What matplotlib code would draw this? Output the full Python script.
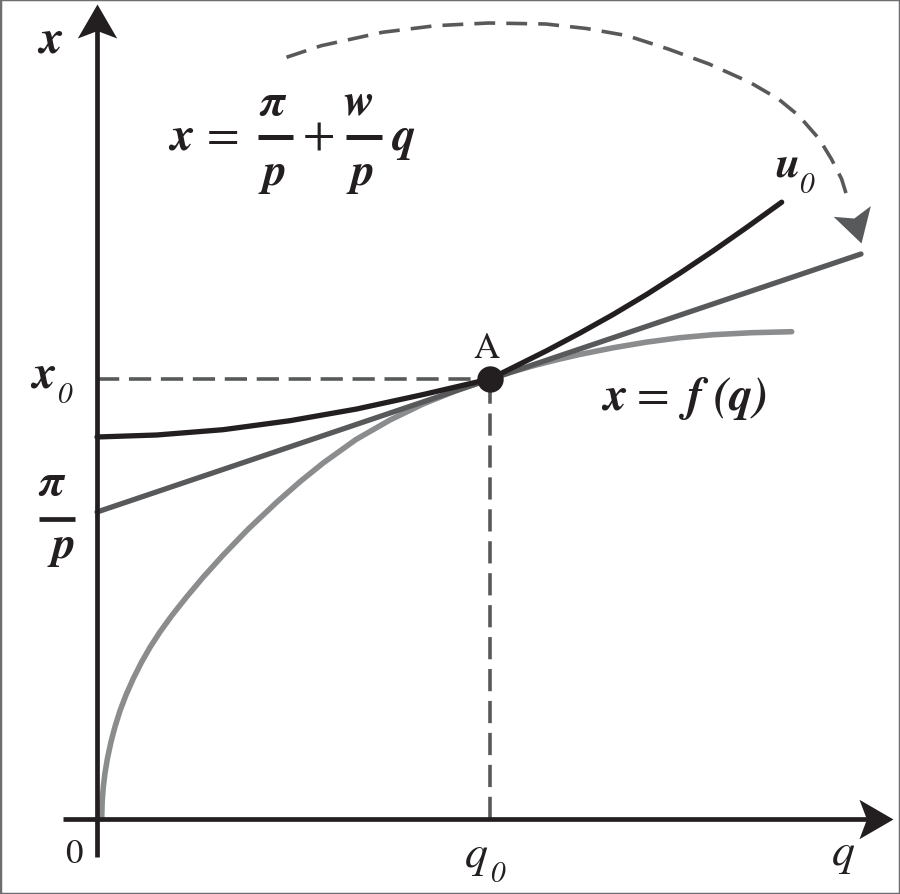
import numpy as np
import matplotlib
matplotlib.use("Agg")
import matplotlib.pyplot as plt
from matplotlib.path import Path
from matplotlib.markers import MarkerStyle
from matplotlib.transforms import Affine2D
from matplotlib.patches import Rectangle

plt.rcParams['lines.scale_dashes'] = False

# ---------------- data (diagram units) ----------------
q0 = 3.93          # equilibrium quantity
x0 = 4.40          # equilibrium level
pi_over_p = 3.07   # intercept of the iso-line
line_q = [0.0, 7.64]
line_x = [3.07, 5.65]

# production function x = f(q)
f_q = [0.047, 0.052, 0.063, 0.08, 0.105, 0.14, 0.18, 0.23, 0.29, 0.36,
       0.44, 0.53, 0.63, 0.75, 0.897, 1.06, 1.263, 1.51, 1.797, 2.03,
       2.263, 2.59, 2.93, 3.26, 3.597, 3.93, 4.15, 4.38, 4.60, 4.83,
       5.16, 5.497, 5.83, 6.163, 6.55, 6.947]
f_x = [0.0, 0.179, 0.32, 0.46, 0.609, 0.772, 0.923, 1.082, 1.24, 1.398,
       1.558, 1.717, 1.871, 2.037, 2.222, 2.416, 2.641, 2.897, 3.168, 3.373,
       3.561, 3.795, 3.99, 4.15, 4.286, 4.40, 4.471, 4.537, 4.593, 4.646,
       4.712, 4.769, 4.813, 4.843, 4.863, 4.873]

# indifference curve u0
u_q = [0.0, 0.597, 1.26, 1.93, 2.597, 3.263, 3.93, 4.497, 4.83, 5.163,
       5.497, 5.83, 6.163, 6.497, 6.847]
u_x = [3.82, 3.84, 3.893, 3.983, 4.10, 4.245, 4.40, 4.683, 4.86, 5.046,
       5.246, 5.459, 5.682, 5.916, 6.168]

# dashed curved arrow
arc_q = [1.895, 2.242, 2.854, 3.385, 3.916, 4.487, 4.895, 5.303, 5.712, 6.12,
         6.528, 6.814, 7.018, 7.222, 7.344, 7.446, 7.508, 7.635]
arc_x = [7.617, 7.733, 7.867, 7.933, 7.96, 7.95, 7.905, 7.833, 7.70, 7.55,
         7.367, 7.20, 7.033, 6.80, 6.60, 6.40, 6.20, 5.76]

# ---------------- styles ----------------
BLACK = '#231f20'
DARK = '#58595b'
LIGHT = '#8a8c8e'
DASH = '#58595b'

fig = plt.figure(figsize=(9.0, 8.95), dpi=100)
ax = fig.add_axes([0, 0, 1, 1])
ax.set_xlim(-0.97, 8.03)
ax.set_ylim(-0.75, 8.20)
ax.axis('off')

fig.patches.append(Rectangle((0, 0), 1, 1, transform=fig.transFigure,
                             fill=False, ec='#6d6e71', lw=2.5))

# stealth arrowhead marker, tip at origin, pointing +x
head = Path([(0, 0), (-1, 0.58), (-0.78, 0), (-1, -0.58), (0, 0)],
            [Path.MOVETO, Path.LINETO, Path.LINETO, Path.LINETO, Path.CLOSEPOLY])

def arrow_head(x, y, angle, color, ms=49):
    m = MarkerStyle(head, transform=Affine2D().rotate_deg(angle))
    ax.plot([x], [y], marker=m, ms=ms, color=color, mec='none', zorder=6)

# axes
ax.plot([0, 0], [-0.38, 7.9], color=BLACK, lw=3.4, solid_capstyle='butt', zorder=5)
arrow_head(0, 8.15, 90, BLACK)
ax.plot([-0.34, 7.7], [0, 0], color=BLACK, lw=3.4, solid_capstyle='butt', zorder=5)
arrow_head(7.956, 0, 0, BLACK)

# dashed guides
ax.plot([0, q0], [x0, x0], color=DASH, lw=2.6, dashes=(16, 7), zorder=2)
ax.plot([q0, q0], [0, x0], color=DASH, lw=2.6, dashes=(16, 7), zorder=2)

# curves
ax.plot(f_q, f_x, color=LIGHT, lw=4.0, solid_capstyle='round',
        solid_joinstyle='round', zorder=3)
ax.plot(line_q, line_x, color=DARK, lw=3.8, solid_capstyle='round', zorder=3.5)
ax.plot(u_q, u_x, color=BLACK, lw=3.8, solid_capstyle='round',
        solid_joinstyle='round', zorder=4)

# point A
ax.plot([q0], [x0], 'o', ms=19, color=BLACK, mec='none', zorder=7)

# curved dashed arrow
ax.plot(arc_q[:-1], arc_x[:-1], color=DASH, lw=2.6, dashes=(15, 8),
        solid_joinstyle='round', zorder=2)
ang = np.degrees(np.arctan2(arc_x[-1] - arc_x[-2], arc_q[-1] - arc_q[-2]))
arrow_head(arc_q[-1], arc_x[-1], ang, DASH, ms=48)

# ---------------- text ----------------
FONT = 'STIXGeneral'
BI = dict(family=FONT, weight='bold', style='italic', color=BLACK)
IT = dict(family=FONT, style='italic', color=BLACK)
RM = dict(family=FONT, color=BLACK)

def t(x, y, s, size, style, ha='center'):
    ax.text(x, y, s, fontsize=size, ha=ha, va='baseline', **style)

# axis labels
t(-0.46, 7.67, 'x', 34, BI)
t(7.465, -0.45, 'q', 33, IT)
t(-0.23, -0.43, '0', 25, RM)
t(q0 - 0.135, -0.47, 'q', 33, IT)
t(q0 + 0.07, -0.62, '0', 21, IT)

# x0 label
t(-0.53, x0 - 0.08, 'x', 34, BI)
t(-0.33, x0 - 0.23, '0', 21, IT)

# pi/p label on axis
t(-0.46, pi_over_p + 0.18, 'π', 33, BI)
ax.plot([-0.58, -0.22], [pi_over_p - 0.065, pi_over_p - 0.065], color=BLACK, lw=3.4,
        solid_capstyle='butt')
t(-0.33, pi_over_p - 0.45, 'p', 33, BI)

# formula x = pi/p + w/p q
fy = 6.70
t(0.845, fy, 'x', 34, BI)
t(1.26, fy, '=', 34, RM)
t(1.755, fy + 0.35, 'π', 33, BI)
ax.plot([1.61, 1.96], [fy + 0.12, fy + 0.12], color=BLACK, lw=3.6, solid_capstyle='butt')
t(1.78, fy - 0.35, 'p', 33, BI)
t(2.22, fy, '+', 34, RM)
t(2.62, fy + 0.35, 'w', 33, BI)
ax.plot([2.49, 2.85], [fy + 0.12, fy + 0.12], color=BLACK, lw=3.6, solid_capstyle='butt')
t(2.665, fy - 0.35, 'p', 33, BI)
t(3.07, fy, 'q', 34, BI)

# A label
t(q0 - 0.04, x0 + 0.22, 'A', 26, RM)

# x = f(q)
fqy = 4.10
t(5.06, fqy, 'x', 34, BI, ha='left')
t(5.56, fqy, '=', 34, RM)
t(5.90, fqy, 'f', 34, BI, ha='left')
t(6.17, fqy, '(q)', 34, BI, ha='left')

# u0
t(6.905, 6.43, 'u', 32, BI)
t(7.095, 6.27, '0', 21, IT)

fig.savefig('out.png', dpi=100)
